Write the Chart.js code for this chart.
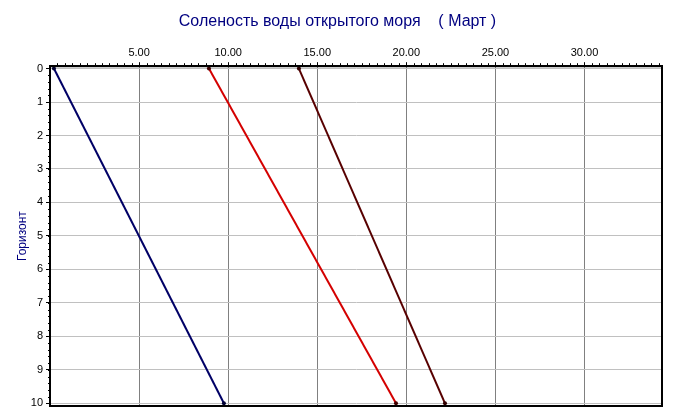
<!DOCTYPE html>
<html>
<head>
<meta charset="utf-8">
<script src="https://cdn.jsdelivr.net/npm/chart.js@4/dist/chart.umd.min.js"></script>
<style>
    html, body { margin: 0; padding: 0; background: #fff; }
    #wrap { width: 675px; height: 419px; }
</style>
</head>
<body>
<div id="wrap"><canvas id="chart"></canvas></div>
<script>
// Horizons (depth levels) and salinity for the three profiles
const horizons = [0, 10];
const salinityA = [0.22, 9.76];
const salinityB = [8.92, 19.42];
const salinityC = [13.97, 22.17];

const xTicks = [5, 10, 15, 20, 25, 30];
const yTicks = [0, 1, 2, 3, 4, 5, 6, 7, 8, 9, 10];

function toPoints(values) {
    return values.map((v, i) => ({ x: v, y: horizons[i] }));
}

// Minor ticks + black frame around the plot area
const framePlugin = {
    id: 'frame',
    afterDraw(chart) {
        const ctx = chart.ctx;
        const a = chart.chartArea;
        const xs = chart.scales.x;
        const ys = chart.scales.y;
        ctx.save();
        ctx.strokeStyle = '#000';
        ctx.lineWidth = 1;
        ctx.beginPath();
        // minor ticks on the top axis
        for (let v = 5 / 12; v < xs.max; v += 5 / 12) {
            const px = Math.round(xs.getPixelForValue(v)) + 0.5;
            ctx.moveTo(px, a.top);
            ctx.lineTo(px, a.top - 3);
        }
        // minor ticks on the left axis
        for (let v = 0.2; v < ys.max; v += 0.2) {
            const py = Math.round(ys.getPixelForValue(v)) + 0.5;
            ctx.moveTo(a.left, py);
            ctx.lineTo(a.left - 2, py);
        }
        ctx.stroke();
        ctx.lineWidth = 2;
        ctx.strokeRect(a.left, a.top, a.right - a.left, a.bottom - a.top);
        ctx.restore();
    }
};

new Chart(document.getElementById('chart'), {
    type: 'line',
    data: {
        datasets: [
            {
                label: 'A',
                data: toPoints(salinityA),
                borderColor: '#000066',
                pointBackgroundColor: '#000033',
                pointBorderColor: '#000033'
            },
            {
                label: 'B',
                data: toPoints(salinityB),
                borderColor: '#d40000',
                pointBackgroundColor: '#400000',
                pointBorderColor: '#400000'
            },
            {
                label: 'C',
                data: toPoints(salinityC),
                borderColor: '#580000',
                pointBackgroundColor: '#300000',
                pointBorderColor: '#300000'
            }
        ]
    },
    options: {
        responsive: true,
        maintainAspectRatio: false,
        animation: false,
        layout: { padding: { left: 13, right: 13, bottom: 13, top: 0 } },
        elements: {
            line: { borderWidth: 2, tension: 0 },
            point: { radius: 2, borderWidth: 0, hoverRadius: 2 }
        },
        plugins: {
            legend: { display: false },
            tooltip: { enabled: false },
            title: {
                display: true,
                text: 'Соленость воды открытого моря    ( Март )',
                color: '#000080',
                font: { family: 'Liberation Sans, Arial', size: 16, weight: 'normal' },
                padding: { top: 12, bottom: 6 }
            }
        },
        scales: {
            x: {
                type: 'linear',
                position: 'top',
                min: 0,
                max: 34.35,
                afterBuildTicks: s => { s.ticks = xTicks.map(v => ({ value: v })); },
                afterFit: s => { s.height = 29; },
                ticks: {
                    color: '#000',
                    font: { family: 'Liberation Sans, Arial', size: 11 },
                    padding: 3,
                    maxRotation: 0,
                    callback: v => v.toFixed(2)
                },
                grid: { color: '#808080', tickColor: '#000', tickLength: 4 },
                border: { color: '#000', width: 2 }
            },
            y: {
                type: 'linear',
                reverse: true,
                min: -0.07,
                max: 10.08,
                afterBuildTicks: s => { s.ticks = yTicks.map(v => ({ value: v })); },
                afterFit: s => { s.width = 37; },
                ticks: {
                    color: '#000',
                    font: { family: 'Liberation Sans, Arial', size: 11 },
                    padding: 3
                },
                grid: { color: '#c0c0c0', tickColor: '#000', tickLength: 4 },
                border: { color: '#000', width: 2 },
                title: {
                    display: true,
                    text: 'Горизонт',
                    color: '#000080',
                    font: { family: 'Liberation Sans, Arial', size: 12 },
                    padding: { top: 2, bottom: 0 }
                }
            }
        }
    },
    plugins: [framePlugin]
});
</script>
</body>
</html>
